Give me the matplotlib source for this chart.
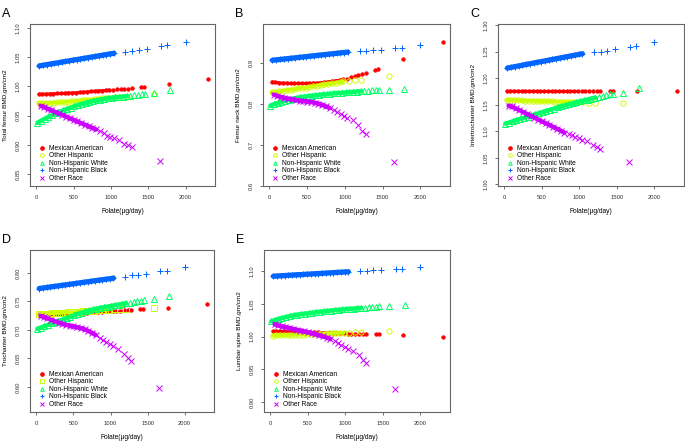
import numpy as np
import matplotlib
matplotlib.use("Agg")
import matplotlib.pyplot as plt

plt.rcParams['font.family'] = ['Liberation Sans', 'DejaVu Sans']

# folate intake (ug/day) per group, shared by all five panels
x_mex = [35, 80, 130, 180, 230, 280, 330, 380, 430, 480, 530, 580, 630, 680, 730, 780, 830, 880, 930, 980,
         1030, 1080, 1130, 1180, 1230, 1280, 1404, 1444, 1773, 2307]
x_his = [30, 80, 130, 180, 230, 280, 330, 380, 430, 480, 530, 580, 630, 680, 730, 780, 830, 880, 930, 980,
         1050, 1130, 1210, 1580]
x_wht = [13, 60, 110, 160, 210, 260, 310, 360, 410, 460, 510, 560, 610, 660, 710, 760, 810, 860, 910, 960,
         1010, 1060, 1110, 1160, 1210, 1260, 1310, 1360, 1410, 1450, 1580, 1790]
x_blk = [40, 90, 140, 190, 240, 290, 340, 390, 440, 490, 540, 590, 640, 690, 740, 790, 840, 890, 940, 990,
         1040, 1195, 1285, 1370, 1480, 1670, 1755, 2000]
x_oth = [57, 100, 150, 200, 250, 300, 350, 400, 450, 500, 550, 600, 650, 700, 750, 800,
         857, 902, 946, 991, 1035, 1102, 1178, 1230, 1280, 1657]

groups = ['Mexican American', 'Other Hispanic', 'Non-Hispanic White', 'Non-Hispanic Black', 'Other Race']

# A: total femur
a_mex = [0.987, 0.987, 0.987, 0.9875, 0.9877, 0.988, 0.988, 0.9885, 0.989, 0.989, 0.9895, 0.990, 0.9905, 0.991,
         0.9915, 0.992, 0.9925, 0.993, 0.9935, 0.994, 0.9944, 0.995, 0.9955, 0.996, 0.9965, 0.997, 0.999, 0.9994,
         1.004, 1.0125]
a_his = [0.971, 0.9713, 0.9716, 0.9719, 0.9722, 0.9726, 0.973, 0.9735, 0.974, 0.9746, 0.9752, 0.9758, 0.9764,
         0.977, 0.9776, 0.9782, 0.9789, 0.9796, 0.9803, 0.981, 0.9815, 0.982, 0.9825, 0.9875]
a_wht = [0.9375, 0.941, 0.9445, 0.9478, 0.9508, 0.9537, 0.9565, 0.959, 0.9615, 0.9638, 0.966, 0.968, 0.970,
         0.9718, 0.9735, 0.975, 0.9763, 0.9775, 0.9786, 0.9796, 0.9805, 0.9813, 0.9821, 0.9828, 0.9835, 0.9842,
         0.9849, 0.9856, 0.9863, 0.9868, 0.988, 0.994]
a_blk = [1.0352, 1.0363, 1.0374, 1.0385, 1.0395, 1.0406, 1.0417, 1.0428, 1.0439, 1.045, 1.046, 1.0471, 1.0482,
         1.0493, 1.0504, 1.0514, 1.0525, 1.0536, 1.0547, 1.0558, 1.0568, 1.0597, 1.061, 1.063, 1.065, 1.070,
         1.0716, 1.077]
a_oth = [0.967, 0.9648, 0.962, 0.9592, 0.9565, 0.9538, 0.951, 0.9483, 0.9455, 0.9427, 0.940, 0.9372, 0.9345,
         0.9318, 0.929, 0.9263, 0.923, 0.920, 0.916, 0.914, 0.912, 0.909, 0.902, 0.899, 0.896, 0.872]

# B: femur neck
b_mex = [0.854, 0.853, 0.852, 0.851, 0.851, 0.850, 0.850, 0.850, 0.850, 0.850, 0.850, 0.851, 0.851, 0.852,
         0.853, 0.854, 0.855, 0.857, 0.858, 0.860, 0.862, 0.865, 0.868, 0.870, 0.873, 0.876, 0.883, 0.885,
         0.909, 0.951]
b_his = [0.828, 0.829, 0.831, 0.832, 0.834, 0.835, 0.836, 0.838, 0.839, 0.840, 0.842, 0.843, 0.845, 0.846,
         0.848, 0.849, 0.850, 0.852, 0.853, 0.855, 0.856, 0.858, 0.859, 0.869]
b_wht = [0.796, 0.7995, 0.8025, 0.8053, 0.8078, 0.8105, 0.8128, 0.8148, 0.8163, 0.8176, 0.8189, 0.820, 0.8212,
         0.8222, 0.8232, 0.8242, 0.825, 0.8258, 0.8266, 0.8273, 0.828, 0.8288, 0.8296, 0.8304, 0.8312, 0.832,
         0.8326, 0.8332, 0.8337, 0.834, 0.835, 0.8366]
b_blk = [0.9065, 0.9075, 0.9085, 0.9095, 0.9105, 0.9115, 0.9125, 0.9135, 0.9145, 0.9155, 0.9165, 0.9175,
         0.9185, 0.9195, 0.9205, 0.9215, 0.9225, 0.9235, 0.9245, 0.9255, 0.9265, 0.928, 0.930, 0.931, 0.9325,
         0.936, 0.937, 0.944]
b_oth = [0.823, 0.820, 0.817, 0.815, 0.813, 0.811, 0.8095, 0.808, 0.807, 0.806, 0.805, 0.803, 0.801, 0.798,
         0.794, 0.790, 0.786, 0.781, 0.7756, 0.7715, 0.766, 0.760, 0.7496, 0.735, 0.7276, 0.6585]

# C: intertrochanter
c_mex = [1.1755, 1.1755, 1.1755, 1.1754, 1.1754, 1.1754, 1.1753, 1.1753, 1.1753, 1.1752, 1.1752, 1.1752,
         1.1751, 1.1751, 1.1751, 1.175, 1.175, 1.175, 1.175, 1.175, 1.175, 1.175, 1.175, 1.175, 1.175, 1.175,
         1.175, 1.175, 1.175, 1.175]
c_his = [1.159, 1.1588, 1.1585, 1.1583, 1.158, 1.1578, 1.1575, 1.1573, 1.157, 1.1568, 1.1566, 1.1564, 1.1562,
         1.156, 1.1558, 1.1556, 1.1554, 1.1553, 1.1551, 1.155, 1.1545, 1.154, 1.1535, 1.153]
c_wht = [1.1144, 1.1165, 1.1188, 1.121, 1.1232, 1.1254, 1.1276, 1.1298, 1.132, 1.1341, 1.1362, 1.1384, 1.1406,
         1.1428, 1.145, 1.1472, 1.149, 1.1508, 1.1526, 1.1544, 1.1562, 1.158, 1.1598, 1.1617, 1.1636, 1.1655,
         1.1672, 1.1686, 1.1698, 1.1707, 1.173, 1.1806]
c_blk = [1.219, 1.2204, 1.2217, 1.2231, 1.2244, 1.2258, 1.2271, 1.2285, 1.2298, 1.2312, 1.2325, 1.2339, 1.2352,
         1.2366, 1.2379, 1.2393, 1.2406, 1.242, 1.2433, 1.2447, 1.246, 1.249, 1.250, 1.252, 1.254, 1.259, 1.261,
         1.2675]
c_oth = [1.148, 1.1468, 1.1432, 1.1398, 1.1362, 1.1327, 1.1292, 1.1257, 1.1222, 1.1187, 1.1152, 1.1117,
         1.1082, 1.1047, 1.1012, 1.0977, 1.095, 1.0925, 1.0894, 1.0875, 1.0844, 1.081, 1.075, 1.0705, 1.0675,
         1.0425]

# D: trochanter
d_mex = [0.727, 0.727, 0.727, 0.7272, 0.7275, 0.7278, 0.728, 0.728, 0.7285, 0.7287, 0.729, 0.7295, 0.730,
         0.7304, 0.7308, 0.731, 0.7315, 0.732, 0.7323, 0.7327, 0.733, 0.7333, 0.7337, 0.734, 0.7343, 0.7345,
         0.7357, 0.736, 0.739, 0.746]
d_his = [0.727, 0.7275, 0.728, 0.7285, 0.729, 0.7294, 0.7298, 0.7302, 0.7306, 0.731, 0.7315, 0.732, 0.7324,
         0.7328, 0.7332, 0.7336, 0.734, 0.7345, 0.735, 0.7355, 0.736, 0.7365, 0.737, 0.739]
d_wht = [0.7018, 0.704, 0.7064, 0.7088, 0.7112, 0.7136, 0.716, 0.7184, 0.7208, 0.7232, 0.7256, 0.728, 0.7302,
         0.7322, 0.734, 0.7357, 0.737, 0.7383, 0.7396, 0.7408, 0.742, 0.7432, 0.7444, 0.7455, 0.7465, 0.7476,
         0.7488, 0.750, 0.7511, 0.752, 0.7544, 0.7585]
d_blk = [0.7725, 0.7734, 0.7743, 0.7752, 0.7761, 0.777, 0.7779, 0.7788, 0.7797, 0.7806, 0.7816, 0.7825,
         0.7834, 0.7843, 0.7852, 0.7861, 0.787, 0.7879, 0.7888, 0.7897, 0.7906, 0.793, 0.7953, 0.797, 0.7988,
         0.803, 0.8035, 0.8094]
d_oth = [0.7246, 0.7225, 0.720, 0.7175, 0.715, 0.7128, 0.7108, 0.709, 0.7075, 0.706, 0.7045, 0.703, 0.701,
         0.698, 0.6947, 0.691, 0.6865, 0.683, 0.679, 0.6749, 0.6713, 0.6673, 0.6585, 0.6515, 0.6456, 0.5977]

# E: lumbar spine
e_mex = [1.008, 1.008, 1.008, 1.0078, 1.0076, 1.0075, 1.0073, 1.0072, 1.007, 1.007, 1.0068, 1.0065, 1.0063,
         1.006, 1.0058, 1.0056, 1.0053, 1.0051, 1.0049, 1.0047, 1.0045, 1.0043, 1.0041, 1.0039, 1.0037, 1.0036,
         1.0033, 1.0032, 1.002, 1.000]
e_his = [1.0015, 1.0017, 1.0019, 1.0021, 1.0023, 1.0025, 1.0027, 1.0029, 1.0031, 1.0033, 1.0035, 1.0037,
         1.0039, 1.0042, 1.0045, 1.0048, 1.005, 1.0053, 1.0056, 1.0059, 1.0062, 1.0066, 1.007, 1.0086]
e_wht = [1.0233, 1.0252, 1.027, 1.0285, 1.0298, 1.0312, 1.0324, 1.0334, 1.0343, 1.035, 1.0356, 1.0364, 1.0371,
         1.0378, 1.0385, 1.0391, 1.0397, 1.0403, 1.0408, 1.0413, 1.0417, 1.0422, 1.0427, 1.0432, 1.0437, 1.0441,
         1.0446, 1.0451, 1.0456, 1.046, 1.047, 1.0487]
e_blk = [1.092, 1.0923, 1.0927, 1.093, 1.0934, 1.0937, 1.0941, 1.0944, 1.0947, 1.0951, 1.0954, 1.0958, 1.0961,
         1.0964, 1.0968, 1.0971, 1.0975, 1.0978, 1.0981, 1.0985, 1.0988, 1.100, 1.1005, 1.101, 1.102, 1.103,
         1.1036, 1.1056]
e_oth = [1.0188, 1.0172, 1.0155, 1.0143, 1.0132, 1.0118, 1.0105, 1.0092, 1.0078, 1.0065, 1.005, 1.0035, 1.002,
         1.0003, 0.9985, 0.9965, 0.9934, 0.990, 0.987, 0.9843, 0.9817, 0.9777, 0.9716, 0.965, 0.960, 0.9208]

ylabels = ['Total femur BMD,gm/cm2', 'Femur neck BMD,gm/cm2', 'Intertrochanter BMD,gm/cm2',
           'Trochanter BMD,gm/cm2', 'Lumbar spine BMD,gm/cm2']
letters = ['A', 'B', 'C', 'D', 'E']
yticks = [[0.85, 0.90, 0.95, 1.00, 1.05, 1.10], [0.6, 0.7, 0.8, 0.9],
          [1.00, 1.05, 1.10, 1.15, 1.20, 1.25, 1.30], [0.60, 0.65, 0.70, 0.75, 0.80],
          [0.90, 0.95, 1.00, 1.05, 1.10]]
ytick_fmt = ['%.2f', '%.1f', '%.2f', '%.2f', '%.2f']
ylims = [(0.8295, 1.107), (0.603, 0.995), (0.997, 1.302), (0.556, 0.840), (0.885, 1.132)]

panels = [(a_mex, a_his, a_wht, a_blk, a_oth), (b_mex, b_his, b_wht, b_blk, b_oth),
          (c_mex, c_his, c_wht, c_blk, c_oth), (d_mex, d_his, d_wht, d_blk, d_oth),
          (e_mex, e_his, e_wht, e_blk, e_oth)]
xs = [x_mex, x_his, x_wht, x_blk, x_oth]

colors = ['#FF0000', '#CCFF00', '#00FF66', '#0066FF', '#CC00FF']
markers = ['o', 'o', '^', '+', 'x']
msizes = [2.4, 3.8, 4.2, 5.0, 3.8]
# where the raw points are so crowded that they merge into a solid band
band_end = [1000, 1000, 1210, 1040, 800]
band_lw = [2.0, 2.6, 3.2, 3.8, 3.2]

W, H = 685, 442
boxes = [(30, 24, 215, 186), (263, 24, 450, 186), (498, 24, 684, 186),
         (30, 250, 214, 412), (264, 250, 450, 412)]

fig = plt.figure(figsize=(W / 100, H / 100), dpi=100)

for i in range(5):
    l, t, r, b = boxes[i]
    ax = fig.add_axes([l / W, (H - b) / H, (r - l) / W, (b - t) / H])
    for j in range(5):
        mk = markers[j]
        if i == 3 and j == 1:
            mk = 's'
        filled = j == 0
        xx = np.array(xs[j])
        yy = np.array(panels[i][j])
        keep = xx <= band_end[j]
        ax.plot(xx[keep], yy[keep], ls='-', lw=band_lw[j], color=colors[j],
                solid_capstyle='round', zorder=2 + j * 0.1)
        ax.plot(xx, yy, ls='none', marker=mk, ms=msizes[j],
                mec=colors[j], mfc=colors[j] if filled else 'none', mew=0.7,
                label=groups[j], zorder=2.05 + j * 0.1)
    ax.set_xlim(-85, 2395)
    ax.set_ylim(*ylims[i])
    ax.set_xticks([0, 500, 1000, 1500, 2000])
    ax.set_yticks(yticks[i])
    ax.set_yticklabels([ytick_fmt[i] % v for v in yticks[i]], rotation=90, va='center')
    ax.tick_params(labelsize=4.2, length=2.5, width=0.5, pad=4, colors='#333333')
    for s in ax.spines.values():
        s.set_color('#666666')
        s.set_linewidth(0.8)
    ax.set_xlabel('Folate(\u03bcg/day)', fontsize=4.8, labelpad=6)
    ax.set_ylabel(ylabels[i], fontsize=4.6, labelpad=6)
    leg = ax.legend(loc='lower left', frameon=False, fontsize=4.8, handlelength=0.8,
                    handletextpad=0.6, labelspacing=0.08, borderaxespad=0.3, borderpad=0.3,
                    bbox_to_anchor=(0.03, 0.0))
    for h in leg.legend_handles:
        h.set_markersize(2.6)
    fig.text((l - 28) / W, 1 - (t - 10) / H, letters[i], fontsize=9, va='center', ha='left')

fig.savefig('out.png', dpi=100)
